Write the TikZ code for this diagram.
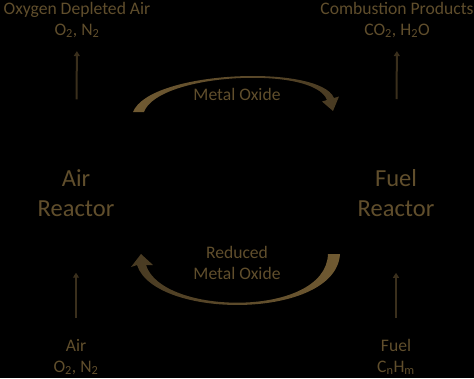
\documentclass[tikz,border=0pt]{standalone}
\usepackage{fontspec}
\setmainfont{Carlito}
\usetikzlibrary{arrows.meta}
\definecolor{txtbrown}{RGB}{96,78,44}
\definecolor{loopbright}{RGB}{112,90,50}
\definecolor{loopdark}{RGB}{72,58,34}
\definecolor{feedbrown}{RGB}{58,47,28}

\begin{document}
\begin{tikzpicture}[x=1pt, y=-1pt,
	lbl/.style={text=txtbrown, font=\fontsize{17.6}{21}\selectfont, align=center, inner sep=0pt},
	reactor/.style={text=txtbrown, font=\fontsize{24.5}{30}\selectfont, align=center, inner sep=0pt},
	feed/.style={draw=feedbrown, line width=2pt, -{Triangle[width=6pt, length=5pt]}}]
		\fill [black] (0, 0) rectangle (474, 378);
		\useasboundingbox (0, 0) rectangle (474, 378);
		% reactors
		\node [reactor] (airR) at (76, 193) {Air\\Reactor};
		\node [reactor] (fuelR) at (396, 193) {Fuel\\Reactor};
		% streams
		\node [lbl] (depleted) at (77, 20) {Oxygen Depleted Air\\O\textsubscript{2}, N\textsubscript{2}};
		\node [lbl] (products) at (397, 20) {Combustion Products\\CO\textsubscript{2}, H\textsubscript{2}O};
		\node [lbl] (air) at (76, 357) {Air\\O\textsubscript{2}, N\textsubscript{2}};
		\node [lbl] (fuel) at (396, 357) {Fuel\\C\textsubscript{n}H\textsubscript{m}};
		\draw [feed, shorten <=21pt, shorten >=56pt] (air.north) -- (airR.south);
		\draw [feed, shorten <=21pt, shorten >=56pt] (fuel.north) -- (fuelR.south);
		\draw [feed, shorten <=70pt, shorten >=13pt] (airR.north) -- (depleted.south);
		\draw [feed, shorten <=70pt, shorten >=13pt] (fuelR.north) -- (products.south);
		% oxygen carrier loop (tapered curved arrows)
		\shade [left color=loopbright, right color=loopdark]
			(133, 112) .. controls (150, 70) and (320, 64) .. (334, 98)
			-- (339, 96.5) -- (333, 111) -- (322, 101.5) -- (327, 100)
			.. controls (314, 65) and (158, 73) .. (144, 112) -- cycle;
		\shade [left color=loopdark, right color=loopbright]
			(340, 254) .. controls (336, 320) and (155, 320) .. (137, 265)
			-- (131, 267) -- (141, 254) -- (153, 265) -- (146, 265)
			.. controls (162, 316) and (326, 318) .. (328, 254) -- cycle;
		\node [lbl] (oxide) at (237, 94) {Metal Oxide};
		\node [lbl] (reduced) at (237, 263) {Reduced\\Metal Oxide};
	\end{tikzpicture}
\end{document}
